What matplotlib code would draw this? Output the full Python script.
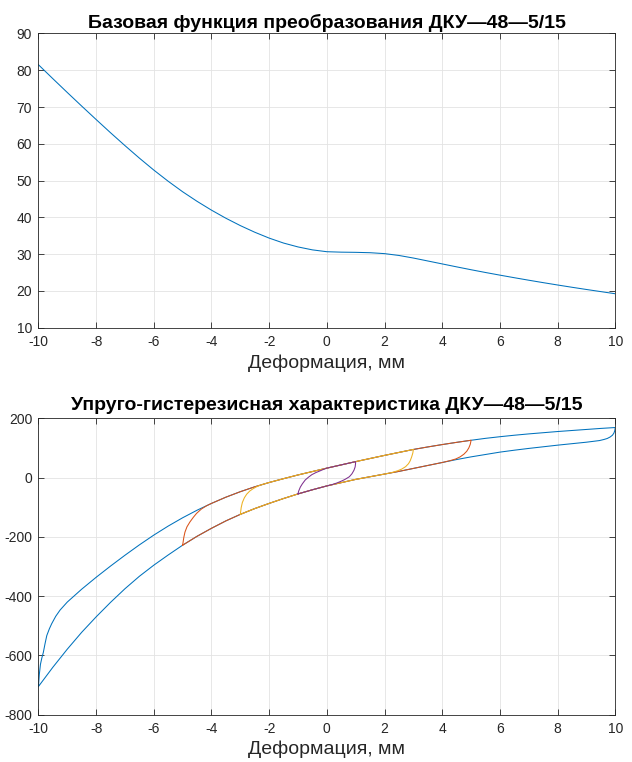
import matplotlib
matplotlib.use("Agg")
import matplotlib.pyplot as plt

plt.rcParams['font.family'] = ['Liberation Sans', 'DejaVu Sans']
plt.rcParams['axes.unicode_minus'] = False

# ---------------- data: top chart ----------------
base_x = [-10, -9.5, -9, -8.5, -8, -7.5, -7, -6.5, -6, -5.5, -5, -4.5, -4, -3.5, -3,
          -2.5, -2, -1.5, -1, -0.5, 0, 0.5, 1, 1.5, 2, 2.5, 3, 3.5, 4, 4.5, 5,
          5.5, 6, 6.5, 7, 7.5, 8, 8.5, 9, 9.5, 10]
base_y = [81.5, 77.7, 73.95, 70.25, 66.6, 63.0, 59.5, 56.1, 52.85, 49.8, 46.95, 44.35,
          41.95, 39.75, 37.75, 35.95, 34.35, 33.0, 31.95, 31.15, 30.65, 30.53, 30.48,
          30.38, 30.13, 29.63, 28.93, 28.13, 27.33, 26.53, 25.75, 25.0, 24.28, 23.58,
          22.9, 22.24, 21.6, 20.98, 20.38, 19.8, 19.22]

# ---------------- data: bottom chart ----------------
# upper branch
upper_x = [-9, -8.5, -8, -7.5, -7, -6.5, -6, -5.5, -5, -4.5, -4, -3.5, -3, -2.5, -2,
           -1.5, -1, -0.5, 0, 0.5, 1, 1.5, 2, 2.5, 3, 3.5, 4, 4.5, 5, 5.5, 6, 6.5,
           7, 7.5, 8, 8.5, 9, 9.5, 10]
upper_y = [-420, -376.5, -336.5, -298.5, -262, -227, -194, -163.5, -135.5, -110, -87,
           -66, -47.5, -31, -16.5, -3.5, 9, 20.5, 32, 43, 54, 64.5, 75, 85, 95, 103.5,
           111.5, 119, 126, 132.5, 138, 143, 147.5, 151.5, 155.5, 159, 162.5, 166, 169]
# lower branch
lower_x = [-10, -9.5, -9, -8.5, -8, -7.5, -7, -6.5, -6, -5.5, -5, -4.5, -4, -3.5, -3,
           -2.5, -2, -1.5, -1, -0.5, 0, 0.5, 1, 1.5, 2, 2.5, 3, 3.5, 4, 4.5, 5, 5.5,
           6, 6.5, 7, 7.5, 8, 8.5, 9]
lower_y = [-705, -640, -579, -522, -470, -421, -375, -333, -295.5, -261, -228, -198, -171,
           -146, -124, -104.5, -87, -70.5, -55, -41, -28, -17, -6, 3, 12, 21, 31, 41, 51,
           61, 70, 78, 86, 92.5, 98.5, 104, 109.5, 114.5, 119.5]

# loop amplitudes
amplitudes = [10, 5, 3, 1]
# rising transitions at the left end of each loop
left_tr_x = [
    [-10, -9.97, -9.93, -9.88, -9.83, -9.77, -9.71, -9.62, -9.54, -9.4, -9.25],
    [-5, -4.96, -4.92, -4.85, -4.75, -4.63, -4.52, -4.35, -4.17],
    [-3, -2.97, -2.93, -2.86, -2.78, -2.67, -2.55, -2.4, -2.2],
    [-1, -0.98, -0.95, -0.92, -0.85, -0.75, -0.63, -0.52, -0.38, -0.23, -0.1],
]
left_tr_y = [
    [-705, -665, -630, -608, -590, -560, -533, -510, -493, -468, -447],
    [-228, -202, -184, -166, -150, -134, -121, -106, -95],
    [-124, -101, -84, -68, -56, -45, -37, -29, -22],
    [-55, -46, -39, -32, -21, -8, 2, 10, 17, 23, 28.5],
]
# falling transitions at the right end of each loop
right_tr_x = [
    [10, 9.98, 9.95, 9.9, 9.82, 9.72, 9.6, 9.45],
    [5, 4.97, 4.92, 4.85, 4.75, 4.62, 4.47, 4.3],
    [3, 2.98, 2.94, 2.89, 2.83, 2.73, 2.6, 2.45, 2.25],
    [1, 0.99, 0.98, 0.94, 0.87, 0.78, 0.63, 0.5, 0.35, 0.2],
]
right_tr_y = [
    [169, 158, 150, 143, 137, 132, 128.5, 125],
    [126, 112, 100, 89, 79, 70, 63, 58],
    [95, 83, 70, 57, 47, 37, 29, 23, 17],
    [54, 44, 36, 25, 13, 3, -6, -12, -18, -23],
]
loop_colors = ['#0072BD', '#D95319', '#EDB120', '#7E2F8E']

xticks = [-10, -8, -6, -4, -2, 0, 2, 4, 6, 8, 10]
top_yticks = [10, 20, 30, 40, 50, 60, 70, 80, 90]
bot_yticks = [-800, -600, -400, -200, 0, 200]

title_top = 'Базовая функция преобразования ДКУ—48—5/15'
title_bot = 'Упруго-гистерезисная характеристика ДКУ—48—5/15'
xlabel = 'Деформация, мм'

# ---------------- figure ----------------
fig = plt.figure(figsize=(6.32, 7.62), dpi=100)
ax1 = fig.add_axes([0.0608, 0.5700, 0.9128, 0.3861])
ax2 = fig.add_axes([0.0608, 0.0621, 0.9128, 0.3889])

dark = '#262626'
tick_family = ['Liberation Sans Narrow', 'Liberation Sans', 'DejaVu Sans']


def style(ax, yticks):
    ax.set_xlim(-10, 10)
    ax.set_ylim(yticks[0], yticks[-1])
    ax.set_xticks(xticks)
    ax.set_yticks(yticks)
    ax.grid(True, color='#e3e3e3', linewidth=0.6)
    ax.set_axisbelow(True)
    for s in ax.spines.values():
        s.set_color(dark)
        s.set_linewidth(0.6)
    ax.tick_params(direction='in', top=True, right=True, length=4, width=0.6,
                   color=dark, labelcolor=dark, labelsize=10)
    ax.tick_params(axis='x', pad=5.5)
    ax.tick_params(axis='y', pad=4.5)
    for lab in ax.get_xticklabels() + ax.get_yticklabels():
        lab.set_family(tick_family)


style(ax1, top_yticks)
ax1.plot(base_x, base_y, color='#0072BD', linewidth=0.75)
ax1.set_title(title_top, fontsize=14, fontweight='bold', pad=4)
ax1.set_xlabel(xlabel, fontsize=14, color=dark, labelpad=4)

style(ax2, bot_yticks)
for k, A in enumerate(amplitudes):
    lx, ly = left_tr_x[k], left_tr_y[k]
    rx, ry = right_tr_x[k], right_tr_y[k]
    xs = list(lx)
    ys = list(ly)
    for x, y in zip(upper_x, upper_y):
        if lx[-1] < x < A:
            xs.append(x)
            ys.append(y)
    xs += rx
    ys += ry
    for x, y in reversed(list(zip(lower_x, lower_y))):
        if -A <= x < rx[-1]:
            xs.append(x)
            ys.append(y)
    ax2.plot(xs, ys, color=loop_colors[k], linewidth=0.75)
ax2.set_title(title_bot, fontsize=14, fontweight='bold', pad=6)
ax2.set_xlabel(xlabel, fontsize=14, color=dark, labelpad=3)

fig.savefig('out.png', dpi=100)
